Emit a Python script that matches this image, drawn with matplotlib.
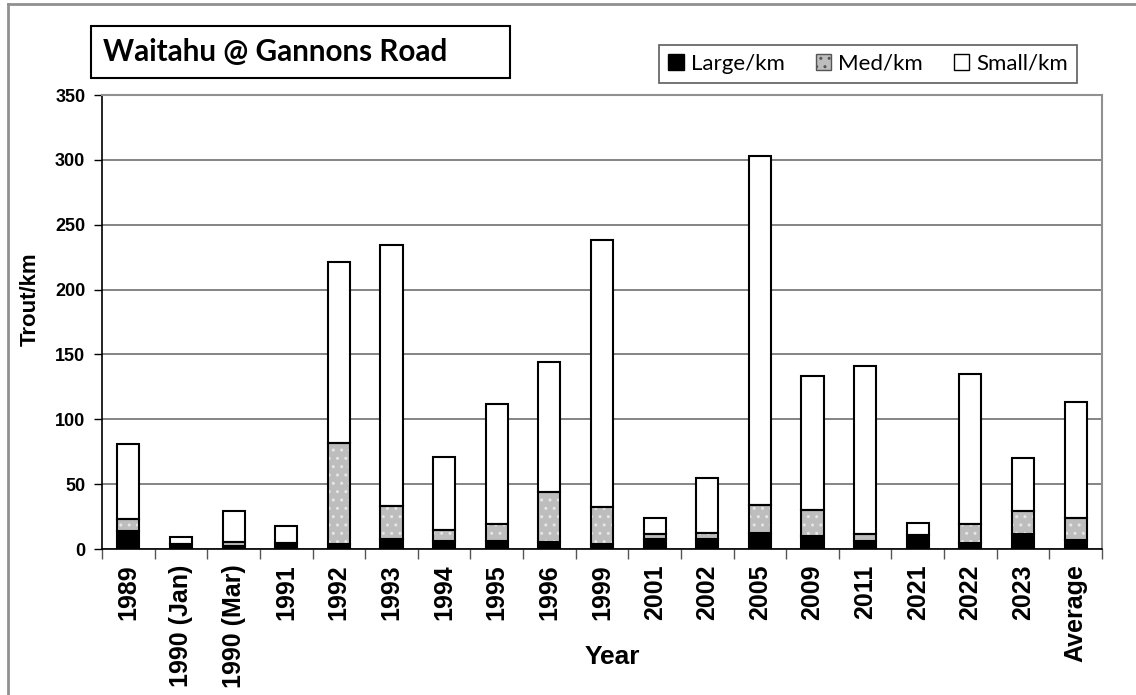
import matplotlib
matplotlib.use("Agg")
import matplotlib.pyplot as plt
from matplotlib.patches import Rectangle, Patch
from matplotlib.lines import Line2D
import numpy as np

categories = ['1989', '1990 (Jan)', '1990 (Mar)', '1991', '1992', '1993', '1994',
              '1995', '1996', '1999', '2001', '2002', '2005', '2009', '2011',
              '2021', '2022', '2023', 'Average']
large = [14, 4, 2.5, 5, 4, 8, 6, 6, 5.5, 4, 8, 8, 12, 10, 6.5, 11, 5, 11.5, 7]
med = [9, 0, 3, 0, 78, 25, 8.6, 13, 38.5, 28.6, 3.6, 4.4, 21.7, 20.3, 5.2, 0, 14.4, 17.7, 16.7]
small = [58, 5.5, 23.5, 13, 139, 201, 56, 93, 100, 206, 12.6, 42.7, 269.3, 103.4, 129.4, 8.8, 115.7, 40.7, 90]
yticks = [0, 50, 100, 150, 200, 250, 300, 350]
series_names = ['Large/km', 'Med/km', 'Small/km']

W, H = 1136, 695
fig = plt.figure(figsize=(W / 100, H / 100), dpi=100)

def fx(px):
    return px / W

def fy(py):
    return 1 - py / H

ax = fig.add_axes([fx(102), fy(549), fx(1102) - fx(102), fy(95) - fy(549)])

x = np.arange(len(categories))
bw = 0.42
large_a = np.array(large)
med_a = np.array(med)
small_a = np.array(small)

ax.bar(x, large_a, bw, color='black', edgecolor='black', linewidth=1.5, zorder=3)
ax.bar(x, med_a, bw, bottom=large_a, color='#bdbdbd', edgecolor='#e6e6e6',
       hatch='..', linewidth=0, zorder=3)
ax.bar(x, med_a, bw, bottom=large_a, fill=False, edgecolor='black', linewidth=1.5, zorder=4)
ax.bar(x, small_a, bw, bottom=large_a + med_a, color='white', edgecolor='black',
       linewidth=1.5, zorder=3)

ax.set_xlim(-0.5, len(categories) - 0.5)
ax.set_ylim(0, 350)
ax.set_yticks(yticks)
ax.set_yticklabels([str(t) for t in yticks], fontsize=13, fontweight='bold',
                   fontfamily='Liberation Sans')
ax.tick_params(axis='y', direction='out', length=6, width=1, pad=6, colors='black')
ax.set_xticks(x)
ax.set_xticklabels(categories, rotation=90, fontsize=18, fontweight='bold',
                   fontfamily='Liberation Sans', va='top', ha='center')
ax.tick_params(axis='x', which='major', length=0, pad=11)
ax.set_xticks(np.arange(-0.5, len(categories), 1.0), minor=True)
ax.tick_params(axis='x', which='minor', direction='out', length=7, width=1, color='#555555')

ax.grid(axis='y', color='#707070', linewidth=1.2, zorder=0)
ax.set_axisbelow(True)
for s in ['top', 'right']:
    ax.spines[s].set_color('#909090')
    ax.spines[s].set_linewidth(1.5)
for s in ['left', 'bottom']:
    ax.spines[s].set_color('black')
    ax.spines[s].set_linewidth(1.2)

fig.text(fx(30), fy(299), 'Trout/km', rotation=90, fontsize=16, fontweight='bold',
         fontfamily='Liberation Sans', ha='center', va='center')
fig.text(fx(612), fy(657), 'Year', fontsize=19, fontweight='bold',
         fontfamily='Liberation Sans', ha='center', va='center')

# title box
fig.patches.append(Rectangle((fx(91), fy(78)), fx(510) - fx(91), fy(26) - fy(78),
                             transform=fig.transFigure, facecolor='white',
                             edgecolor='black', linewidth=1.5, zorder=5))
fig.text(fx(103), fy(52), 'Waitahu @ Gannons Road', fontsize=21.3, fontweight='bold',
         fontfamily=['Lato', 'DejaVu Sans'], ha='left', va='center', zorder=6)

# legend
handles = [Patch(facecolor='black', edgecolor='black', linewidth=1),
           Patch(facecolor='#bdbdbd', edgecolor='#555555', linewidth=1, hatch='..'),
           Patch(facecolor='white', edgecolor='black', linewidth=1)]
leg = fig.legend(handles, series_names, loc='center',
                 bbox_to_anchor=(fx(868), fy(64)), ncol=3, frameon=True,
                 fancybox=False, shadow=False, handlelength=0.7, handleheight=0.7,
                 handletextpad=0.3, columnspacing=1.4, borderpad=0.4,
                 prop={'family': ['Lato', 'DejaVu Sans'], 'size': 16})
leg.get_frame().set_edgecolor('#333333')
leg.get_frame().set_linewidth(1.2)

# outer border (left and top)
fig.add_artist(Line2D([fx(8), fx(8)], [0, fy(4)], transform=fig.transFigure,
                      color='#909090', linewidth=2))
fig.add_artist(Line2D([fx(8), 1], [fy(4), fy(4)], transform=fig.transFigure,
                      color='#909090', linewidth=2))

fig.savefig('out.png', dpi=100)
